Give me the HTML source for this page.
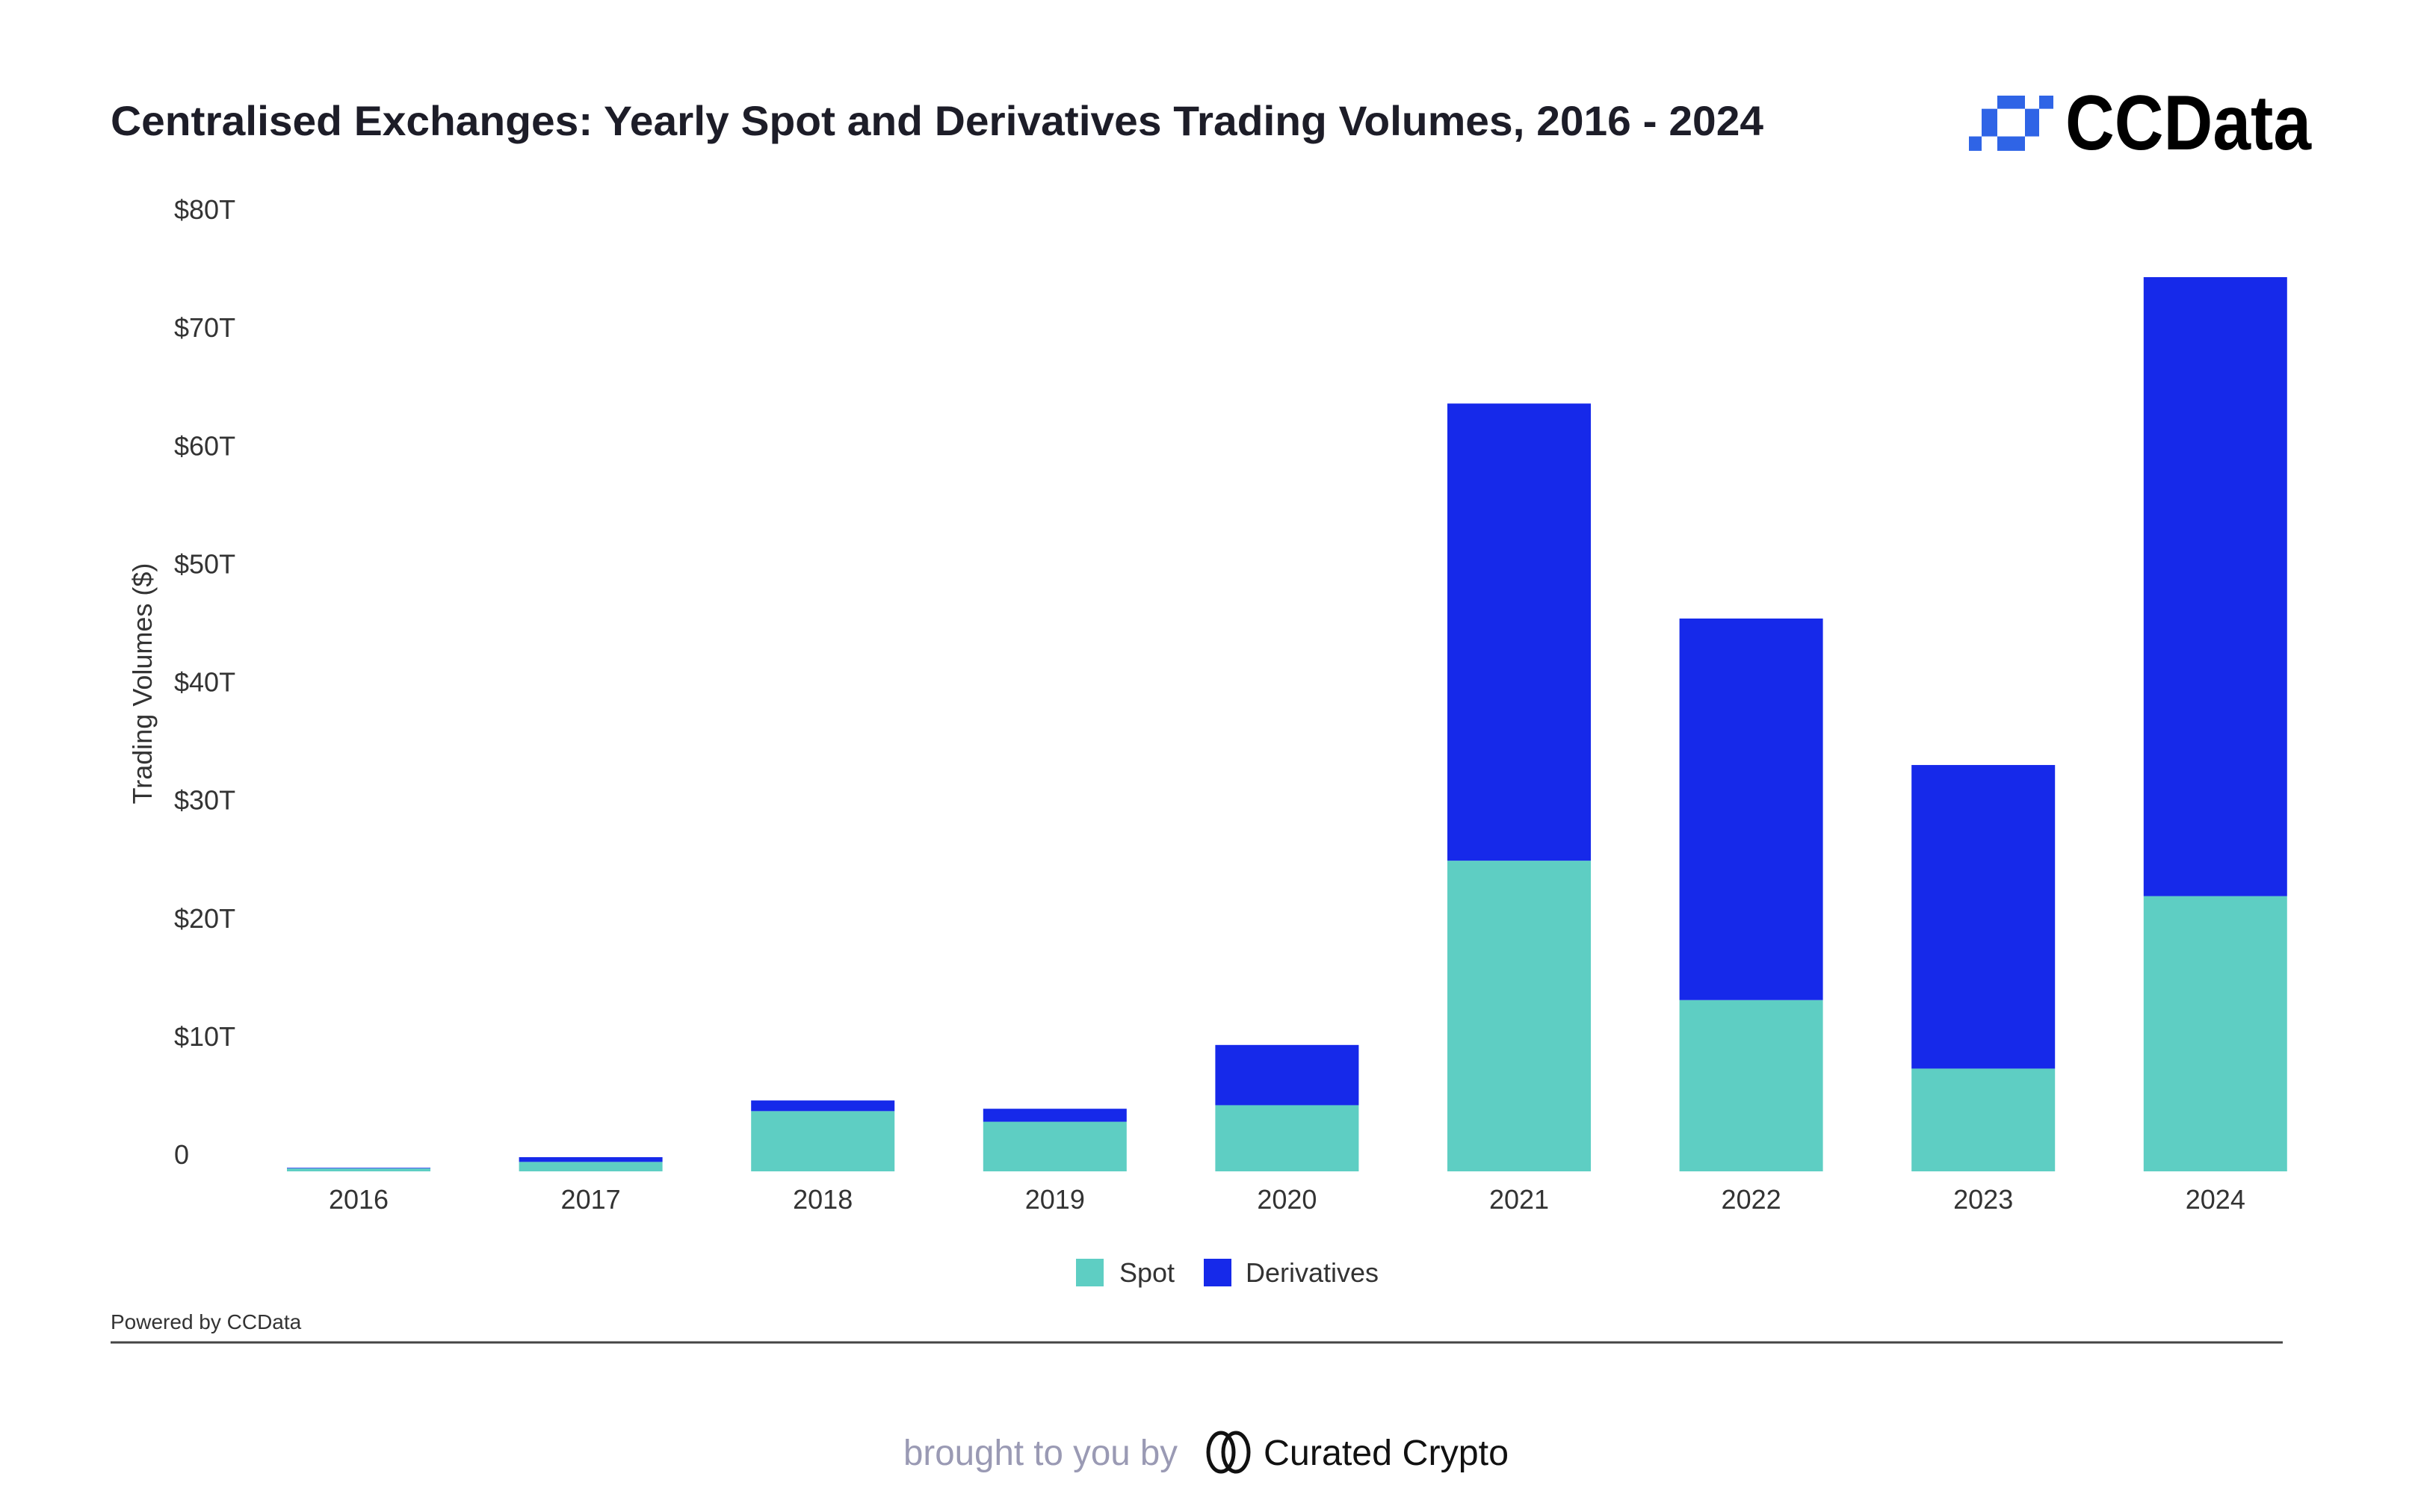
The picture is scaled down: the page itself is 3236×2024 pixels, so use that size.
<!DOCTYPE html>
<html><head><meta charset="utf-8"><style>
html,body{margin:0;padding:0;background:#fff;}
svg{display:block;font-family:"Liberation Sans",sans-serif;}
</style></head><body>
<svg id="chart" width="3236" height="2024" viewBox="0 0 3236 2024" xmlns="http://www.w3.org/2000/svg">
<text x="148" y="181" font-size="56" font-weight="bold" fill="#1d1d28" textLength="2212" lengthAdjust="spacingAndGlyphs">Centralised Exchanges: Yearly Spot and Derivatives Trading Volumes, 2016 - 2024</text>
<g fill="#2f64e6">
<g transform="translate(0,128) scale(1,0.84) translate(0,-129)">
<rect x="2673" y="129" width="37" height="21"/><rect x="2729" y="129" width="19" height="21"/>
<rect x="2652" y="150" width="21" height="44"/><rect x="2710" y="150" width="19" height="44"/>
<rect x="2673" y="194" width="37" height="23"/><rect x="2635" y="194" width="17" height="23"/>
</g>
<text x="2764" y="200" font-size="104" font-weight="bold" fill="#000" textLength="329" lengthAdjust="spacingAndGlyphs">CCData</text>
</g>
<text transform="translate(203,915) rotate(-90)" text-anchor="middle" font-size="36" fill="#333">Trading Volumes ($)</text>
<g id="yticks"></g>
<g id="bars"></g>
<g id="xticks"></g>
<g>
<rect x="1440" y="1685" width="37" height="37" fill="#5ecec3"/>
<text x="1498" y="1716" font-size="36" fill="#333">Spot</text>
<rect x="1611" y="1685" width="37" height="37" fill="#1629ea"/>
<text x="1667" y="1716" font-size="36" fill="#333">Derivatives</text>
</g>
<text x="148" y="1779" font-size="28" fill="#333">Powered by CCData</text>
<line x1="148" y1="1797" x2="3055" y2="1797" stroke="#444" stroke-width="3"/>
<text x="1209" y="1961" font-size="48" fill="#9a9ab4" textLength="367" lengthAdjust="spacingAndGlyphs">brought to you by</text>
<g>
<ellipse cx="1634" cy="1944" rx="17" ry="26" fill="none" stroke="#111" stroke-width="5"/>
<ellipse cx="1654" cy="1944" rx="17" ry="26" fill="none" stroke="#111" stroke-width="5"/>
<text x="1691" y="1961" font-size="48" fill="#111" textLength="328" lengthAdjust="spacingAndGlyphs">Curated Crypto</text>
</g>
</svg>
<script>
const years = ["2016","2017","2018","2019","2020","2021","2022","2023","2024"];
const spot = [0.25,0.8,5.1,4.2,5.6,26.3,14.5,8.7,23.3];
const derivatives = [0.05,0.4,0.9,1.1,5.1,38.7,32.3,25.7,52.4];
const yTicks = [0,10,20,30,40,50,60,70,80];
const yTickLabels = ["0","$10T","$20T","$30T","$40T","$50T","$60T","$70T","$80T"];
const NS="http://www.w3.org/2000/svg";
const y0=1568, y80=303;
function yS(v){return y0-(y0-y80)*v/80;}
function xC(i){return 480+i*310.6;}
const bw=192;
const yt=document.getElementById('yticks'), bars=document.getElementById('bars'), xt=document.getElementById('xticks');
yTicks.forEach((t,i)=>{
  const el=document.createElementNS(NS,'text');
  el.setAttribute('x',233);el.setAttribute('y',yS(t)-10);
  el.setAttribute('font-size','36');el.setAttribute('fill','#333');
  el.textContent=yTickLabels[i];
  
  
  yt.appendChild(el);
});
years.forEach((yr,i)=>{
  const x=xC(i)-bw/2;
  const s=document.createElementNS(NS,'rect');
  s.setAttribute('x',x);s.setAttribute('y',yS(spot[i]));s.setAttribute('width',bw);
  s.setAttribute('height',yS(0)-yS(spot[i]));s.setAttribute('fill','#5ecec3');
  
  
  bars.appendChild(s);
  const d=document.createElementNS(NS,'rect');
  const top=spot[i]+derivatives[i];
  d.setAttribute('x',x);d.setAttribute('y',yS(top));d.setAttribute('width',bw);
  d.setAttribute('height',yS(spot[i])-yS(top));d.setAttribute('fill','#1629ea');
  
  
  bars.appendChild(d);
  const l=document.createElementNS(NS,'text');
  l.setAttribute('x',xC(i));l.setAttribute('y',1618);l.setAttribute('text-anchor','middle');
  l.setAttribute('font-size','36');l.setAttribute('fill','#333');
  l.textContent=yr;
  
  
  xt.appendChild(l);
});
</script>
</body></html>
